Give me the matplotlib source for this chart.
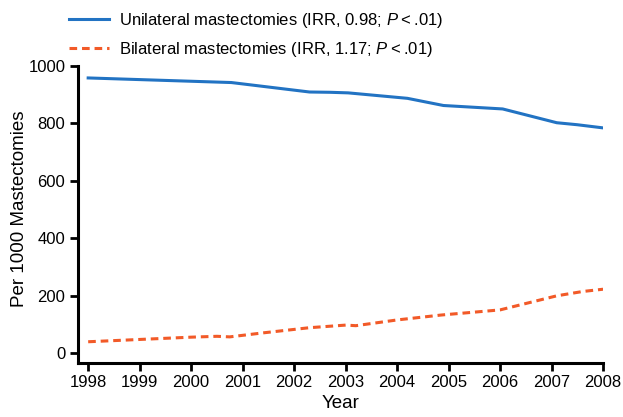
import matplotlib
matplotlib.use("Agg")
import matplotlib.pyplot as plt

plt.rcParams['font.family'] = ['Liberation Sans Narrow', 'Liberation Sans', 'DejaVu Sans']
plt.rcParams['mathtext.fontset'] = 'custom'
plt.rcParams['mathtext.rm'] = 'Liberation Sans'
plt.rcParams['mathtext.it'] = 'Liberation Sans:italic'

# values
uni_years = [1998, 2000.78, 2002.3, 2002.7, 2003.05, 2004.2, 2004.9, 2006.05, 2007.1, 2007.5, 2008]
uni_rate = [958, 942, 909, 908, 906, 887, 862, 850, 802, 795, 784]
bi_years = [1998, 2000.0, 2000.5, 2000.75, 2001.4, 2002.3, 2003.0, 2003.2, 2004.0, 2004.85, 2006.0, 2007.1, 2007.6, 2008]
bi_rate = [39, 55, 58, 56, 70, 88, 97, 95, 115, 132, 150, 199, 214, 222]

uni_label = "Unilateral mastectomies (IRR, 0.98; $P$\u2009<\u2009.01)"
bi_label = "Bilateral mastectomies (IRR, 1.17; $P$\u2009<\u2009.01)"

fig = plt.figure(figsize=(6.23, 4.17), dpi=100)
ax = fig.add_axes([0.125, 0.1295, 0.843, 0.7125])

ax.plot(uni_years, uni_rate, color='#2273c3', lw=2.2, label=uni_label)
ax.plot(bi_years, bi_rate, color='#f25a28', lw=2.2, ls=(0, (2.5, 1.6)), label=bi_label)

ax.set_xlim(1997.8, 2008)
ax.set_ylim(-35, 1000)
ax.set_xticks(range(1998, 2009))
ax.set_yticks(range(0, 1001, 200))
ax.tick_params(labelsize=12, width=2, length=6, color='black', pad=3)
for s in ['top', 'right']:
    ax.spines[s].set_visible(False)
for s in ['left', 'bottom']:
    ax.spines[s].set_linewidth(2.2)

ax.set_xlabel("Year", fontsize=13.5, labelpad=3)
ax.set_ylabel("Per 1000 Mastectomies", fontsize=13.5, labelpad=2)
ax.yaxis.set_label_coords(-0.095, 0.52)

ax.legend(loc='upper left', bbox_to_anchor=(-0.045, 1.235), frameon=False,
          fontsize=12, handlelength=2.4, handletextpad=0.6, labelspacing=0.6)

fig.savefig("out.png", dpi=100)
